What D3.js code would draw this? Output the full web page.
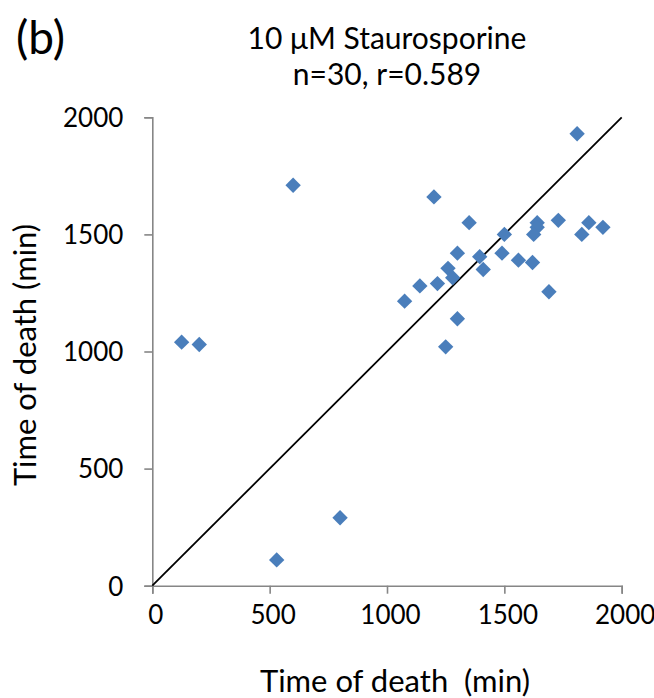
<!DOCTYPE html>
<html>
<head>
<meta charset="utf-8">
<script src="https://cdn.jsdelivr.net/npm/d3@7"></script>
<style>
  body { margin: 0; background: #fff; }
  svg { display: block; }
  text { font-family: Lato, "Open Sans", sans-serif; fill: #000; }
</style>
</head>
<body>
<svg id="chart" width="654" height="698"></svg>
<script>
// Time of death (minutes)
var deathX = [1810, 1200, 1350, 1640, 1640, 1625, 1730, 1860, 1920, 1830,
              1500, 1490, 1300, 1395, 1410, 1560, 1620, 1260, 1280, 1215,
              1140, 1075, 1690, 1300, 1250, 600, 125, 200, 800, 530];
var deathY = [1930, 1660, 1550, 1550, 1530, 1500, 1560, 1550, 1530, 1500,
              1500, 1420, 1420, 1405, 1350, 1390, 1380, 1355, 1315, 1290,
              1280, 1215, 1255, 1140, 1020, 1710, 1040, 1030, 290, 110];
var xTicks = [0, 500, 1000, 1500, 2000];
var yTicks = [0, 500, 1000, 1500, 2000];
var identityLine = [[0, 0], [2000, 2000]];

function renderScatter(target) {
  /* Scatter of the two death times with the y = x reference line. */
  var svg = d3.select(target),
    margin = {top: 117.3, right: 32.3, bottom: 112.3, left: 152.3},
    width = svg.attr("width") - margin.left - margin.right,
    height = svg.attr("height") - margin.top - margin.bottom;

  var x = d3.scaleLinear().domain([0, 2000]).range([0, width]);
  var y = d3.scaleLinear().domain([0, 2000]).range([height, 0]);

  var g = svg.append("g")
    .attr("transform", "translate(" + margin.left + ", " + margin.top + ")");

  // X Axis
  var xa = g.append("g")
    .attr("transform", "translate(0, " + height + ")")
    .call(d3.axisBottom(x).tickValues(xTicks).tickSize(8).tickPadding(12).tickFormat(d3.format("d")));

  // Y Axis
  var ya = g.append("g")
    .call(d3.axisLeft(y).tickValues(yTicks).tickSize(8).tickPadding(21).tickFormat(d3.format("d")));

  [xa, ya].forEach(function(a) {
    a.select(".domain").attr("stroke", "#868686").attr("stroke-width", 1.6);
    a.selectAll(".tick line").attr("stroke", "#868686").attr("stroke-width", 1.6);
    a.selectAll(".tick text").attr("font-size", "26").attr("font-family", "Lato, sans-serif").attr("fill", "#000");
  });
  xa.selectAll(".tick text").attr("dx", 3);
  ya.selectAll(".tick text").attr("dy", "0.36em");

  // y = x line
  var line = d3.line()
    .x(function(d) { return x(d[0]); })
    .y(function(d) { return y(d[1]); });
  g.append("path")
    .datum(identityLine)
    .attr("d", line)
    .attr("fill", "none")
    .attr("stroke", "#000")
    .attr("stroke-width", 1.8);

  // Points, drawn as squares turned 45 degrees
  var diamond = d3.symbol().type(d3.symbolSquare).size(118);
  g.selectAll(".pt")
    .data(deathX.map(function(v, i) { return [v, deathY[i]]; }))
    .enter().append("path")
      .attr("class", "pt")
      .attr("d", diamond)
      .attr("transform", function(d) {
        return "translate(" + x(d[0]) + "," + y(d[1]) + ") rotate(45)";
      })
      .attr("fill", "#4a7ebb");

  // Titles
  svg.append("text")
    .attr("x", 16).attr("y", 54)
    .attr("font-size", "46")
    .text("(b)");
  svg.append("text")
    .attr("x", margin.left + width / 2).attr("y", 49)
    .attr("text-anchor", "middle")
    .attr("font-size", "30")
    .text("10 \u03bcM Staurosporine");
  svg.append("text")
    .attr("x", margin.left + width / 2).attr("y", 85)
    .attr("text-anchor", "middle")
    .attr("font-size", "30")
    .text("n=30, r=0.589");

  svg.append("text")
    .attr("x", 395).attr("y", 692)
    .attr("text-anchor", "middle")
    .attr("font-size", "31")
    .attr("xml:space", "preserve")
    .style("white-space", "pre")
    .text("Time of death  (min)");

  svg.append("text")
    .attr("transform", "translate(36, 355) rotate(-90)")
    .attr("text-anchor", "middle")
    .attr("font-size", "31")
    .text("Time of death (min)");
}

renderScatter("#chart");
</script>
</body>
</html>
